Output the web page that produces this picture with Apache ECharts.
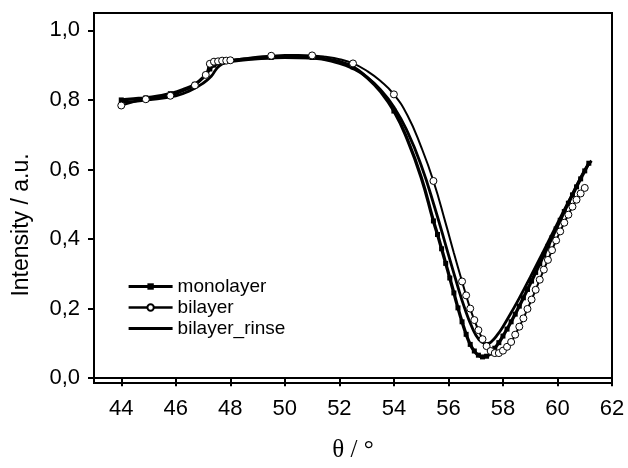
<!DOCTYPE html>
<html>
<head>
<meta charset="utf-8">
<script src="https://cdn.jsdelivr.net/npm/echarts@6/dist/echarts.min.js"></script>
<style>
  html, body { margin: 0; padding: 0; background: #fff; }
  #chart { width: 628px; height: 468px; }
</style>
</head>
<body>
<div id="chart"></div>
<script>
// Axis ticks
const xTicks = [44, 46, 48, 50, 52, 54, 56, 58, 60, 62];
const yTicks = [0, 0.2, 0.4, 0.6, 0.8, 1.0];

// monolayer: measured points (drawn with a square marker)
const monolayerTheta = [44.0, 44.9, 45.8, 46.7, 47.1, 47.25, 47.4, 47.55, 47.7, 47.85, 48.0, 49.5, 51.0, 52.5, 54.0, 55.45,
  55.6, 55.75, 55.9, 56.05, 56.2, 56.35, 56.5, 56.65, 56.8, 56.95, 57.1, 57.25, 57.4, 57.55, 57.7, 57.85,
  58.0, 58.15, 58.3, 58.45, 58.6, 58.75, 58.9, 59.05, 59.2, 59.35, 59.5, 59.65, 59.8, 59.95, 60.1, 60.25,
  60.4, 60.55, 60.7, 60.85, 61.0, 61.15];
const monolayerI = [0.800, 0.806, 0.818, 0.845, 0.872, 0.889, 0.900, 0.906, 0.909, 0.911, 0.913, 0.922, 0.922, 0.895, 0.768, 0.452,
  0.413, 0.372, 0.330, 0.288, 0.245, 0.202, 0.162, 0.126, 0.097, 0.078, 0.066, 0.061, 0.063, 0.072, 0.086, 0.102,
  0.121, 0.141, 0.162, 0.184, 0.207, 0.231, 0.255, 0.279, 0.304, 0.329, 0.354, 0.379, 0.404, 0.429, 0.454, 0.479,
  0.503, 0.527, 0.550, 0.573, 0.596, 0.618];
// monolayer: extra curve points between the sparse markers (no marker)
const monolayerCurveTheta = [44.45, 45.35, 46.25, 48.5, 49.0, 50.0, 50.5, 51.5, 52.0, 53.0, 53.5, 54.5, 55.0];
const monolayerCurveI = [0.803, 0.811, 0.829, 0.917, 0.920, 0.923, 0.923, 0.918, 0.910, 0.865, 0.825, 0.685, 0.578];

// bilayer: measured points (open circles)
const bilayerTheta = [44.0, 44.9, 45.8, 46.7, 47.1, 47.25, 47.4, 47.55, 47.7, 47.85, 48.0, 49.5, 51.0, 52.5, 54.0, 55.45,
  56.5, 56.65, 56.8, 56.95, 57.1, 57.25, 57.4, 57.55, 57.7, 57.85, 58.0, 58.15, 58.3, 58.45, 58.6, 58.75,
  58.9, 59.05, 59.2, 59.35, 59.5, 59.65, 59.8, 59.95, 60.1, 60.25, 60.4, 60.55, 60.7, 60.85, 61.0];
const bilayerI = [0.784, 0.802, 0.812, 0.842, 0.872, 0.904, 0.910, 0.911, 0.913, 0.913, 0.914, 0.927, 0.928, 0.905, 0.816, 0.567,
  0.278, 0.238, 0.200, 0.167, 0.138, 0.112, 0.092, 0.078, 0.072, 0.072, 0.079, 0.090, 0.104, 0.125, 0.148, 0.172,
  0.199, 0.226, 0.254, 0.283, 0.312, 0.340, 0.368, 0.396, 0.422, 0.447, 0.470, 0.493, 0.513, 0.531, 0.547];
const bilayerCurveTheta = [44.45, 45.35, 46.25, 46.9, 48.5, 49.0, 50.0, 50.5, 51.5, 52.0, 53.0, 53.5, 54.5, 55.0, 55.9, 56.2];
const bilayerCurveI = [0.794, 0.806, 0.825, 0.856, 0.919, 0.924, 0.929, 0.929, 0.924, 0.917, 0.884, 0.855, 0.755, 0.665, 0.445, 0.360];

// bilayer after rinsing: plain line
const rinseTheta = [44.0, 45.0, 46.0, 46.5, 47.0, 47.3, 47.5, 47.7, 48.0, 49.0, 50.0, 51.0, 52.0, 52.5, 53.0, 53.5,
  54.0, 54.5, 55.0, 55.5, 56.0, 56.3, 56.6, 56.9, 57.1, 57.3, 57.45, 57.6, 57.8, 58.0, 58.3, 58.6,
  59.0, 59.5, 60.0, 60.5, 61.0, 61.25];
const rinseI = [0.792, 0.800, 0.812, 0.826, 0.848, 0.868, 0.890, 0.903, 0.910, 0.918, 0.922, 0.920, 0.905, 0.890, 0.866, 0.830,
  0.780, 0.708, 0.612, 0.490, 0.355, 0.275, 0.200, 0.140, 0.113, 0.101, 0.100, 0.107, 0.125, 0.148, 0.188, 0.230,
  0.290, 0.367, 0.445, 0.522, 0.598, 0.625];

// merge marked points with unmarked curve points, ordered by angle
function mergeSeries(xs, ys, cx, cy) {
  const pts = xs.map((x, i) => ({ value: [x, ys[i]] }))
    .concat(cx.map((x, i) => ({ value: [x, cy[i]], symbol: 'none' })));
  return pts.sort((a, b) => a.value[0] - b.value[0]);
}
const pairs = (xs, ys) => xs.map((x, i) => [x, ys[i]]);
const sans = 'Liberation Sans, Arial, sans-serif';

const chart = echarts.init(document.getElementById('chart'), null, { renderer: 'canvas' });
chart.setOption({
  animation: false,
  backgroundColor: '#fff',
  grid: { left: 94, right: 16, top: 13, bottom: 74, show: true, borderColor: '#000', borderWidth: 2 },
  xAxis: {
    type: 'value', min: 43, max: 62,
    name: 'θ / °', nameLocation: 'middle', nameGap: 55,
    nameTextStyle: { fontFamily: 'Liberation Serif, Times New Roman, serif', fontSize: 25, color: '#000' },
    axisLine: { lineStyle: { color: '#000', width: 2 } },
    axisTick: { inside: false, length: 8, lineStyle: { color: '#000', width: 2 }, customValues: xTicks },
    axisLabel: { fontFamily: sans, fontSize: 22, color: '#000', margin: 15, customValues: xTicks },
    splitLine: { show: false }
  },
  yAxis: {
    type: 'value', min: -0.014, max: 1.05,
    axisLine: { show: true, lineStyle: { color: '#000', width: 2 } },
    axisTick: { show: true, inside: false, length: 6, lineStyle: { color: '#000', width: 2 }, customValues: yTicks },
    axisLabel: {
      fontFamily: sans, fontSize: 22, color: '#000', margin: 14, customValues: yTicks,
      formatter: v => v.toFixed(1).replace('.', ',')
    },
    splitLine: { show: false }
  },
  graphic: [{
    type: 'text', x: 22, y: 225, rotation: Math.PI / 2,
    style: { text: 'Intensity / a.u.', font: '23px Liberation Sans, Arial, sans-serif', fill: '#000',
             align: 'center', verticalAlign: 'middle' }
  }],
  legend: {
    orient: 'vertical', left: 122, top: 272, itemGap: 2,
    itemWidth: 44, itemHeight: 8,
    textStyle: { fontFamily: sans, fontSize: 19, color: '#000' },
    data: [
      { name: 'monolayer', lineStyle: { width: 3.2 } },
      { name: 'bilayer', lineStyle: { width: 2.5 } },
      { name: 'bilayer_rinse', icon: 'path://M0,0H44V3H0Z' }
    ]
  },
  series: [
    {
      name: 'bilayer_rinse', type: 'line', data: pairs(rinseTheta, rinseI),
      smooth: 0.5, showSymbol: false, symbol: 'none',
      lineStyle: { color: '#000', width: 2.8 }, itemStyle: { color: '#000' }, z: 2
    },
    {
      name: 'monolayer', type: 'line',
      data: mergeSeries(monolayerTheta, monolayerI, monolayerCurveTheta, monolayerCurveI),
      smooth: 0.5, showAllSymbol: true,
      symbol: 'rect', symbolSize: 5,
      lineStyle: { color: '#000', width: 3.3 }, itemStyle: { color: '#000' }, z: 3
    },
    {
      name: 'bilayer', type: 'line',
      data: mergeSeries(bilayerTheta, bilayerI, bilayerCurveTheta, bilayerCurveI),
      smooth: 0.5, showAllSymbol: true,
      symbol: 'circle', symbolSize: 7,
      lineStyle: { color: '#000', width: 2 },
      itemStyle: { color: '#fff', borderColor: '#000', borderWidth: 1 }, z: 4
    }
  ]
});
</script>
</body>
</html>
